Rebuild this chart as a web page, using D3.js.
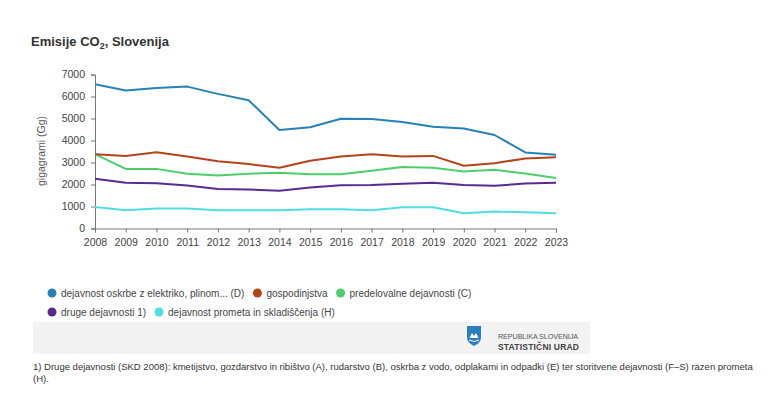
<!DOCTYPE html>
<html>
<head>
<meta charset="utf-8">
<script src="https://cdn.jsdelivr.net/npm/d3@7"></script>
<style>
  body { margin: 0; background: #fff; font-family: "Liberation Sans", Arial, sans-serif; }
  svg { display: block; }
</style>
</head>
<body>
<svg id="chart" width="768" height="396"></svg>
<script>
var years = [2008, 2009, 2010, 2011, 2012, 2013, 2014, 2015, 2016, 2017, 2018, 2019, 2020, 2021, 2022, 2023];
var yTicks = [0, 1000, 2000, 3000, 4000, 5000, 6000, 7000];

var seriesNames = [
  "dejavnost oskrbe z elektriko, plinom... (D)",
  "gospodinjstva",
  "predelovalne dejavnosti (C)",
  "druge dejavnosti 1)",
  "dejavnost prometa in skladiščenja (H)"
];
var seriesColors = ["#2681b4", "#b3441a", "#4ccf6a", "#5a2a91", "#4fdde3"];

var energija = [6560, 6270, 6390, 6450, 6120, 5830, 4480, 4600, 4990, 4980, 4840, 4630, 4550, 4250, 3460, 3350];
var gospodinjstva = [3380, 3300, 3470, 3270, 3060, 2930, 2760, 3080, 3270, 3370, 3270, 3300, 2850, 2970, 3180, 3240];
var predelovalne = [3380, 2710, 2710, 2490, 2410, 2490, 2530, 2470, 2470, 2620, 2800, 2760, 2590, 2670, 2500, 2300];
var druge = [2260, 2075, 2060, 1950, 1800, 1770, 1720, 1860, 1970, 1980, 2030, 2075, 1980, 1940, 2040, 2075];
var promet = [980, 830, 905, 905, 830, 830, 830, 875, 875, 830, 965, 965, 690, 770, 740, 690];

var allSeries = [energija, gospodinjstva, predelovalne, druge, promet];

var svg = d3.select("#chart");

// title with subscript
var title = svg.append("text")
    .attr("x", 31)
    .attr("y", 46)
    .attr("font-size", 13)
    .attr("font-weight", "bold")
    .attr("fill", "#333");
title.append("tspan").text("Emisije CO");
title.append("tspan").attr("font-size", 9).attr("dy", 3).text("2");
title.append("tspan").attr("dy", -3).text(", Slovenija");

var x = d3.scalePoint().domain(years).range([95, 556]);
var y = d3.scaleLinear().domain([0, 7000]).range([228.5, 74.5]);

var xAxis = svg.append("g")
    .attr("transform", "translate(0,228.5)")
    .call(d3.axisBottom(x).tickSize(4).tickPadding(6));
xAxis.select(".domain").attr("stroke", "#777");
xAxis.selectAll(".tick line").attr("stroke", "#777");
xAxis.selectAll("text").attr("font-size", 10.5).attr("fill", "#444")
    .attr("font-family", "'Liberation Sans', Arial, sans-serif");

var yAxis = svg.append("g")
    .attr("transform", "translate(95,0)")
    .call(d3.axisLeft(y).tickValues(yTicks).tickSize(4).tickPadding(6).tickFormat(d3.format("d")));
yAxis.select(".domain").attr("stroke", "#777");
yAxis.selectAll(".tick line").attr("stroke", "#777");
yAxis.selectAll("text").attr("font-size", 10.5).attr("fill", "#444")
    .attr("font-family", "'Liberation Sans', Arial, sans-serif");

svg.append("text")
    .attr("transform", "translate(45,151) rotate(-90)")
    .attr("text-anchor", "middle")
    .attr("font-size", 10.5)
    .attr("fill", "#555")
    .text("gigagrami (Gg)");

var line = d3.line()
    .x(function(d, i) { return x(years[i]); })
    .y(function(d) { return y(d); });

// draw bottom series first so blue ends on top
for (var s = allSeries.length - 1; s >= 0; s--) {
  svg.append("path")
      .datum(allSeries[s])
      .attr("fill", "none")
      .attr("stroke", seriesColors[s])
      .attr("stroke-width", 2)
      .attr("stroke-linejoin", "round")
      .attr("d", line);
}

// legend
var legendRows = [[0, 1, 2], [3, 4]];
var legendY = [293, 312];
legendRows.forEach(function(row, r) {
  var cx = 52;
  row.forEach(function(idx) {
    svg.append("circle")
        .attr("cx", cx)
        .attr("cy", legendY[r])
        .attr("r", 4.5)
        .attr("fill", seriesColors[idx]);
    var t = svg.append("text")
        .attr("x", cx + 9)
        .attr("y", legendY[r] + 3.5)
        .attr("font-size", 10)
        .attr("fill", "#444")
        .text(seriesNames[idx]);
    cx += t.node().getComputedTextLength() + 22;
  });
});

// credits band
svg.append("rect")
    .attr("x", 33)
    .attr("y", 322)
    .attr("width", 557)
    .attr("height", 32)
    .attr("fill", "#f2f2f2");

// simple crest
svg.append("path")
    .attr("d", "M467,326 L481,326 L481,337 Q481,343 474,346 Q467,343 467,337 Z")
    .attr("fill", "#2a7ec0");
svg.append("path")
    .attr("d", "M469.5,338 L472,333 L474,336 L476,333 L478.5,338 Z")
    .attr("fill", "#fff");
svg.append("path")
    .attr("d", "M469,340 Q474,343 479,340")
    .attr("fill", "none")
    .attr("stroke", "#fff")
    .attr("stroke-width", 1);

svg.append("text")
    .attr("x", 498)
    .attr("y", 339)
    .attr("font-size", 7.2)
    .attr("fill", "#555")
    .attr("textLength", 80)
    .text("REPUBLIKA SLOVENIJA");
svg.append("text")
    .attr("x", 498)
    .attr("y", 349.5)
    .attr("font-size", 8.5)
    .attr("font-weight", "bold")
    .attr("fill", "#444")
    .attr("textLength", 81)
    .text("STATISTIČNI URAD");

// footnote
svg.append("text")
    .attr("x", 33)
    .attr("y", 370)
    .attr("font-size", 9.5)
    .attr("fill", "#333")
    .text("1) Druge dejavnosti (SKD 2008): kmetijstvo, gozdarstvo in ribištvo (A), rudarstvo (B), oskrba z vodo, odplakami in odpadki (E) ter storitvene dejavnosti (F\u2013S) razen prometa");
svg.append("text")
    .attr("x", 33)
    .attr("y", 382)
    .attr("font-size", 9.5)
    .attr("fill", "#333")
    .text("(H).");
</script>
</body>
</html>
